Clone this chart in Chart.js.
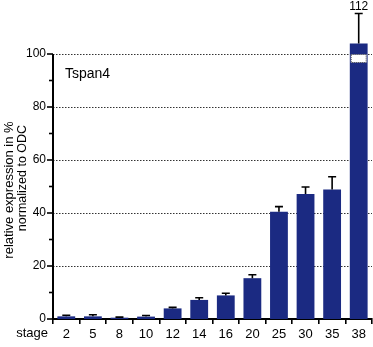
<!DOCTYPE html>
<html lang="en">
<head>
    <meta charset="UTF-8">
    <title>Tspan4 expression</title>
    <style>
        body { margin: 0; padding: 0; background: #fff; }
        #chart { display: block; }
    </style>
    <script src="https://cdn.jsdelivr.net/npm/chart.js"></script>
</head>
<body>
<canvas id="chart" width="373" height="347"></canvas>
<script>
    // Data
    const stages = ['2', '5', '8', '10', '12', '14', '16', '20', '25', '30', '35', '38'];
    const values = [1.0, 1.0, 0.5, 0.9, 4.0, 7.2, 8.9, 15.4, 40.5, 47.2, 48.9, 112];
    const errors = [0.4, 0.6, 0.2, 0.4, 0.4, 0.8, 0.8, 1.3, 1.9, 2.6, 4.8, 11.3];
    const majorTicks = [0, 20, 40, 60, 80, 100];
    const minorTicks = [10, 30, 50, 70, 90];

    // broken axis: anything over 100 is drawn short, with its value written on top
    const breakTop = 104;
    const shownValues = values.map(v => v > 100 ? breakTop : v);

    const navy = '#1b2a82';
    const font = 'Liberation Sans, Arial, sans-serif';

    const extras = {
        id: 'extras',
        beforeDatasetsDraw(chart) {
            const { ctx, chartArea, scales: { y } } = chart;
            ctx.save();
            ctx.strokeStyle = '#333';
            ctx.lineWidth = 1;
            ctx.setLineDash([1.5, 1.5]);
            majorTicks.slice(1).forEach(v => {
                const py = Math.round(y.getPixelForValue(v)) + 0.5;
                ctx.beginPath();
                ctx.moveTo(chartArea.left, py);
                ctx.lineTo(chartArea.right, py);
                ctx.stroke();
            });
            ctx.restore();
        },
        afterDatasetsDraw(chart) {
            const { ctx, chartArea, scales: { y } } = chart;
            const meta = chart.getDatasetMeta(0);
            ctx.save();

            // error bars (upper only)
            ctx.strokeStyle = '#000';
            ctx.lineWidth = 1.6;
            meta.data.forEach((bar, i) => {
                const top = y.getPixelForValue(shownValues[i]);
                const end = y.getPixelForValue(shownValues[i] + errors[i]);
                ctx.beginPath();
                ctx.moveTo(bar.x, top);
                ctx.lineTo(bar.x, end);
                ctx.moveTo(bar.x - 4, end);
                ctx.lineTo(bar.x + 4, end);
                ctx.stroke();
            });

            // axis break on tall bars
            meta.data.forEach((bar, i) => {
                if (values[i] <= 100) return;
                const y1 = Math.round(y.getPixelForValue(100)) + 0.5;
                const y2 = Math.round(y.getPixelForValue(97)) + 0.5;
                ctx.fillStyle = '#fff';
                ctx.fillRect(bar.x - bar.width / 2 + 1, y1, bar.width - 2, y2 - y1);
                ctx.setLineDash([1, 1]);
                ctx.lineWidth = 1;
                ctx.strokeStyle = '#555';
                ctx.strokeRect(bar.x - bar.width / 2 + 1.5, y1, bar.width - 3, y2 - y1);
                ctx.setLineDash([]);
                ctx.fillStyle = '#000';
                ctx.font = '12px ' + font;
                ctx.textAlign = 'center';
                ctx.textBaseline = 'bottom';
                ctx.fillText(String(values[i]), bar.x, y.getPixelForValue(shownValues[i] + errors[i]) - 1);
            });

            // y axis line, tick marks and labels
            ctx.strokeStyle = '#000';
            ctx.lineWidth = 2;
            const ax = chartArea.left;
            ctx.beginPath();
            ctx.moveTo(ax, y.getPixelForValue(0) + 1);
            ctx.lineTo(ax, y.getPixelForValue(100));
            ctx.stroke();
            ctx.lineWidth = 1.6;
            ctx.fillStyle = '#000';
            ctx.font = '12px ' + font;
            ctx.textAlign = 'right';
            ctx.textBaseline = 'middle';
            majorTicks.forEach(v => {
                const py = y.getPixelForValue(v);
                ctx.beginPath();
                ctx.moveTo(ax - 6, py);
                ctx.lineTo(ax, py);
                ctx.stroke();
                ctx.fillText(String(v), ax - 7, py);
            });
            minorTicks.forEach(v => {
                const py = y.getPixelForValue(v);
                ctx.beginPath();
                ctx.moveTo(ax - 4, py);
                ctx.lineTo(ax, py);
                ctx.stroke();
            });

            // texts
            ctx.font = '14px ' + font;
            ctx.textAlign = 'left';
            ctx.textBaseline = 'alphabetic';
            ctx.fillText('Tspan4', 65, 78);

            ctx.font = '13px ' + font;
            ctx.textAlign = 'right';
            ctx.textBaseline = 'middle';
            ctx.fillText('stage', 48, 333);

            ctx.textAlign = 'center';
            ctx.save();
            ctx.font = '13px ' + font;
            ctx.translate(9, 190);
            ctx.rotate(-Math.PI / 2);
            ctx.fillText('relative expression in %', 0, 0);
            ctx.restore();
            ctx.font = '12.5px ' + font;
            ctx.translate(23, 178);
            ctx.rotate(-Math.PI / 2);
            ctx.fillText('normalized to ODC', 0, 0);
            ctx.restore();
        }
    };

    const chart = new Chart(document.getElementById('chart'), {
        type: 'bar',
        data: {
            labels: stages,
            datasets: [{
                data: shownValues,
                backgroundColor: navy,
                borderWidth: 0,
                categoryPercentage: 1,
                barPercentage: 0.67
            }]
        },
        options: {
            responsive: false,
            animation: false,
            devicePixelRatio: 1,
            layout: { padding: { top: 1, right: 1, left: 0, bottom: 0 } },
            plugins: { legend: { display: false }, tooltip: { enabled: false } },
            scales: {
                x: {
                    offset: true,
                    afterFit: s => { s.height = 28; },
                    grid: { display: true, drawOnChartArea: false, offset: true, tickLength: 5, color: '#000', lineWidth: 1.6 },
                    border: { display: true, color: '#000', width: 2 },
                    ticks: { color: '#000', font: { family: font, size: 13 }, padding: 3, maxRotation: 0 }
                },
                y: {
                    min: 0,
                    max: 120,
                    afterFit: s => { s.width = 53; s.paddingTop = 0; s.paddingBottom = 0; },
                    grid: { display: false },
                    border: { display: false },
                    ticks: { display: false }
                }
            }
        },
        plugins: [extras]
    });
</script>
</body>
</html>
